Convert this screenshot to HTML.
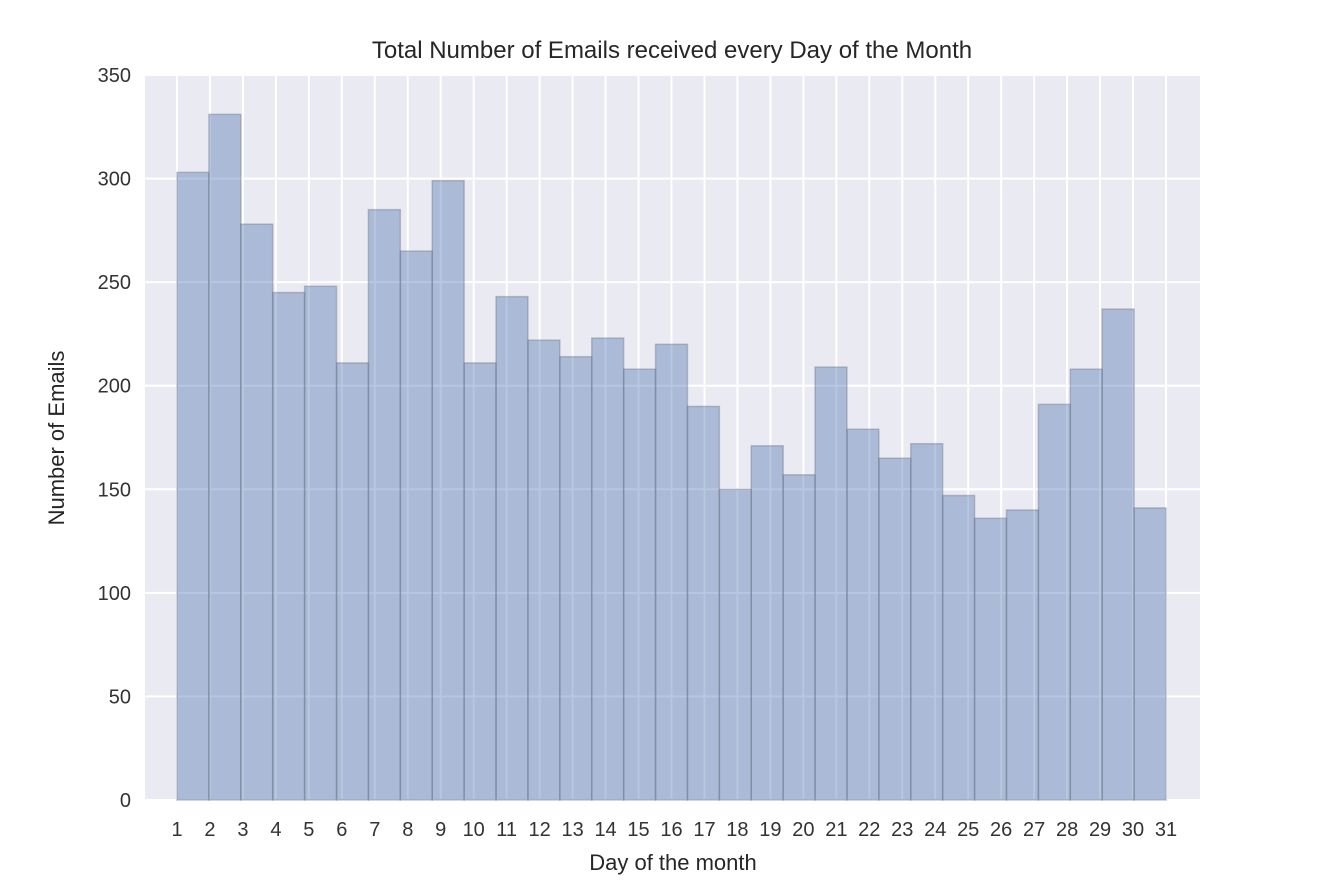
<!DOCTYPE html>
<html><head><meta charset="utf-8"><style>
body{margin:0;background:#fff;}
svg{display:block;font-family:"Liberation Sans","DejaVu Sans",sans-serif;}
</style></head><body>
<svg id="chart" width="1326" height="894"></svg>
<script>
const days=[1,2,3,4,5,6,7,8,9,10,11,12,13,14,15,16,17,18,19,20,21,22,23,24,25,26,27,28,29,30,31];
const counts=[303,331,278,245,248,211,285,265,299,211,243,222,214,223,208,220,190,150,171,157,209,179,165,172,147,136,140,191,208,237,141];
const yTicks=[0,50,100,150,200,250,300,350];
const xTicks=[1,2,3,4,5,6,7,8,9,10,11,12,13,14,15,16,17,18,19,20,21,22,23,24,25,26,27,28,29,30,31];
const L=145,R=1200,T=75,B=800;
const X=v=>177+(v-1)*(1166-177)/30;
const Y=v=>B-(v/350)*(B-T);
const svg=document.getElementById('chart');
const NS='http://www.w3.org/2000/svg';
function mk(t,a){const e=document.createElementNS(NS,t);for(const k in a)e.setAttribute(k,a[k]);svg.appendChild(e);return e;}
const bg=mk('rect',{x:L,y:T,width:R-L,height:B-T,fill:'#eaeaf2'});


yTicks.forEach(v=>{
 const g=mk('line',{x1:L,x2:R,y1:Y(v),y2:Y(v),stroke:'#fff','stroke-width':2});
 
 
 const t=mk('text',{x:L-14,y:Y(v)+7,'text-anchor':'end','font-size':20,fill:'#333'});
 t.textContent=v;
 
 
});
xTicks.forEach(v=>{
 const g=mk('line',{x1:X(v),x2:X(v),y1:T,y2:B,stroke:'#fff','stroke-width':2});
 
 
 const t=mk('text',{x:X(v),y:B+36,'text-anchor':'middle','font-size':20,fill:'#333'});
 t.textContent=v;
 
 
});
const n=counts.length, w=(30/n);
counts.forEach((c,i)=>{
 const x0=X(1+i*w), x1=X(1+(i+1)*w);
 const r=mk('rect',{x:x0,y:Y(c),width:x1-x0,height:B-Y(c),fill:'rgba(76,114,176,0.4)',stroke:'rgba(110,118,135,0.4)','stroke-width':1.5});
 
 
});
const ti=mk('text',{x:672,y:58,'text-anchor':'middle','font-size':24,fill:'#262626'});
ti.textContent='Total Number of Emails received every Day of the Month';


const xl=mk('text',{x:673,y:870,'text-anchor':'middle','font-size':22,fill:'#262626'});
xl.textContent='Day of the month';


const yl=mk('text',{x:0,y:0,'text-anchor':'middle','font-size':22,fill:'#262626',transform:'translate(64,438) rotate(-90)'});
yl.textContent='Number of Emails';


</script>
</body></html>
